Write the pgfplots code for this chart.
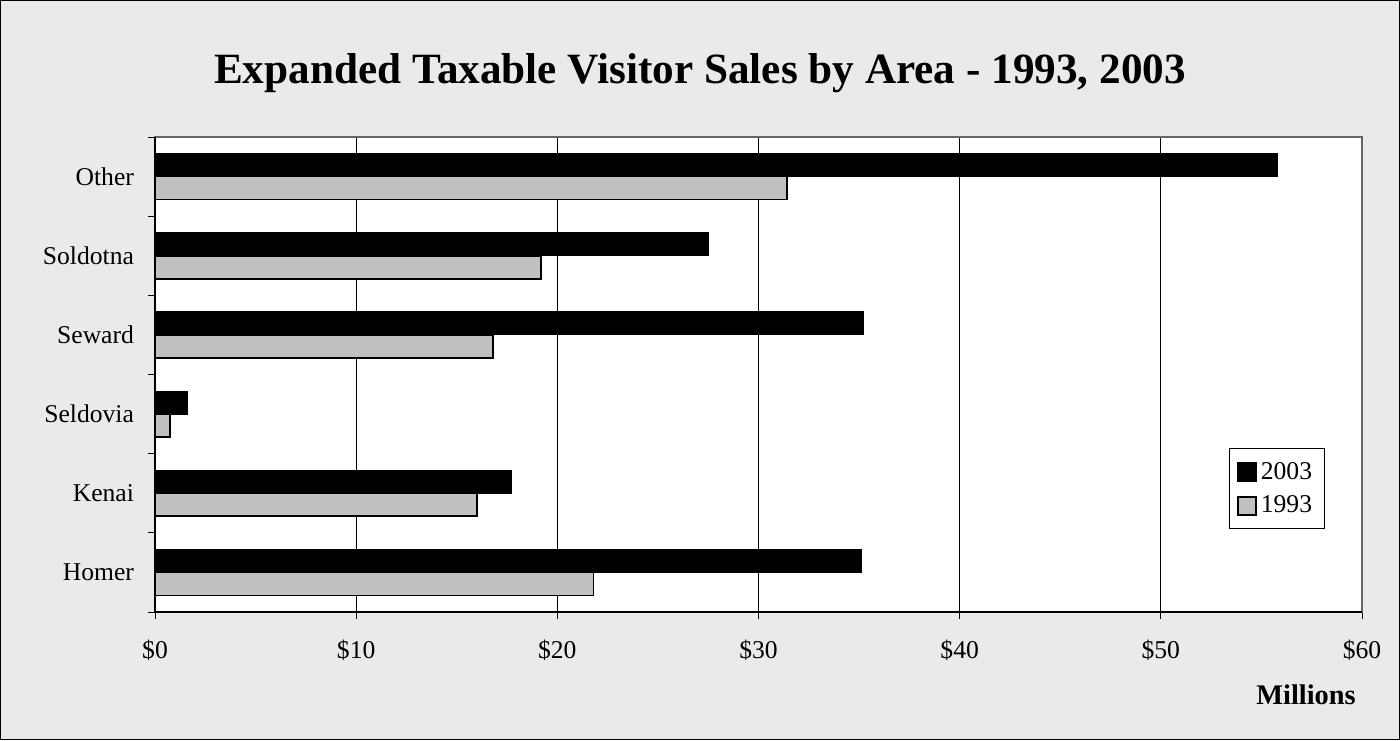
\documentclass[border=0pt]{standalone}
\usepackage{fontspec}
\setmainfont{Liberation Serif}
\usepackage{pgfplots}
\pgfplotsset{compat=1.18}
\definecolor{bggray}{HTML}{EAEAEA}
\definecolor{bargray}{HTML}{C0C0C0}
\begin{document}
\begin{tikzpicture}
\fill[bggray] (-77.5pt,-64pt) rectangle (622.5pt,306pt);
\draw[black,line width=0.6pt] (-77.2pt,-63.7pt) rectangle (622.2pt,305.7pt);
\begin{axis}[
  scale only axis,
  width=603.5pt, height=237.5pt,
  xbar=0pt, bar width=11.5pt,
  xmin=0, xmax=60,
  ymin=-0.5, ymax=5.5,
  axis background/.style={fill=white},
  axis line style={draw=gray!80!black, line width=0.6pt},
  xtick={0,10,...,60},
  xticklabel={\$\pgfmathprintnumber{\tick}},
  /pgf/number format/assume math mode=true,
  ytick={-0.5,0.5,1.5,2.5,3.5,4.5,5.5},
  yticklabels={},
  extra y ticks={0,1,2,3,4,5},
  extra y tick labels={Homer,Kenai,Seldovia,Seward,Soldotna,Other},
  extra y tick style={major tick length=0pt, yticklabel style={xshift=-7pt}},
  tick align=outside,
  major tick length=3.5pt,
  tick style={black, line width=0.5pt},
  xtick pos=bottom, ytick pos=left,
  xmajorgrids, major grid style={black, line width=0.5pt},
  ticklabel style={font=\fontsize{12.8}{15}\selectfont},
  xticklabel style={yshift=-7pt},
  legend style={at={(0.969,0.259)}, anchor=east, draw=black, line width=0.5pt,
    font=\fontsize{12.8}{15}\selectfont, row sep=3pt, inner xsep=4pt, inner ysep=4.5pt},
  legend cell align=left,
  reverse legend,
  legend image code/.code={\draw[#1, line width=0.9pt] (0pt,-4.5pt) rectangle (9pt,4.5pt);},
  clip=false,
  extra description/.code={\draw[black, line width=0.8pt] (rel axis cs:0,1) -- (rel axis cs:0,0) -- (rel axis cs:1,0);},
]
\addplot[fill=bargray, draw=black, line width=0.9pt] coordinates {
  (21.8,0) (16.0,1) (0.75,2) (16.8,3) (19.2,4) (31.4,5)};
\addlegendentry{1993}
\addplot[fill=black, draw=black, line width=0.5pt] coordinates {
  (35.1,0) (17.7,1) (1.64,2) (35.2,3) (27.5,4) (55.8,5)};
\addlegendentry{2003}
\end{axis}
\node at (272.5pt,269.5pt) {\fontsize{21.6}{26}\selectfont\bfseries Expanded Taxable Visitor Sales by Area - 1993, 2003};
\node at (575.5pt,-41.5pt) {\fontsize{14.2}{17}\selectfont\bfseries Millions};
\end{tikzpicture}
\end{document}
